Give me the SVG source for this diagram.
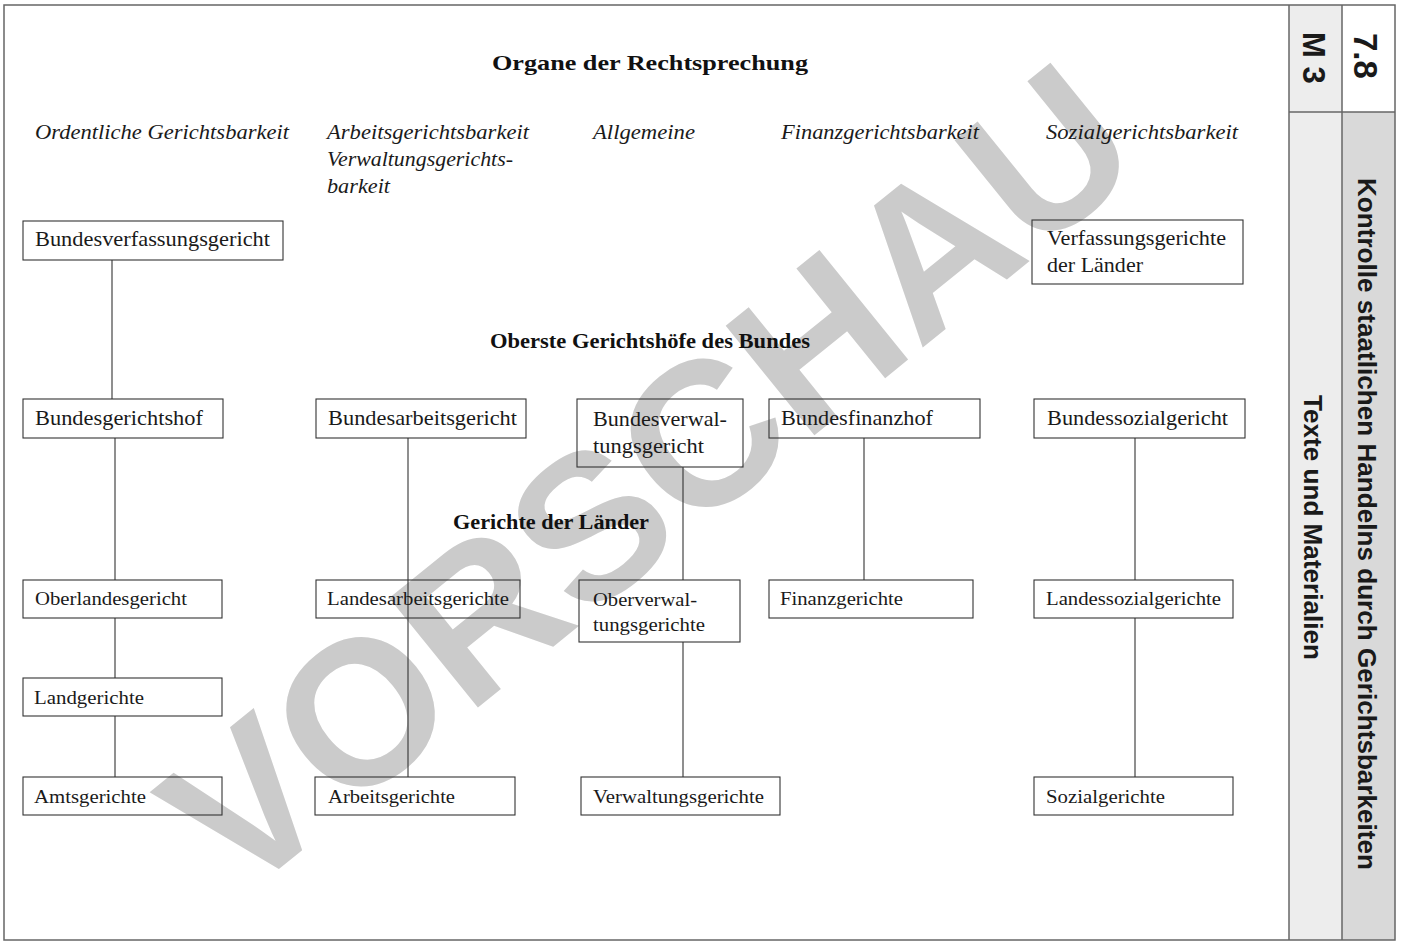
<svg xmlns="http://www.w3.org/2000/svg" width="1403" height="941" viewBox="0 0 1403 941">
<style>
.wm{font-family:"Liberation Sans",Arial,sans-serif;font-weight:bold;fill:#cbcbcb}
.box{fill:none;stroke:#333;stroke-width:1.1}
.t{font-family:"Liberation Serif","Times New Roman",serif;font-size:21px;fill:#1a1a1a}
.s{font-family:"Liberation Serif","Times New Roman",serif;font-size:19.5px;fill:#1a1a1a}
.h{font-family:"Liberation Serif","Times New Roman",serif;font-size:20px;font-style:italic;fill:#1a1a1a}
.b{font-family:"Liberation Serif","Times New Roman",serif;font-size:21px;font-weight:bold;fill:#111}
.side{font-family:"Liberation Sans",Arial,sans-serif;font-weight:bold;fill:#1a1a1a}
.frame{fill:none;stroke:#666;stroke-width:1.5}
#connectors line{stroke:#333;stroke-width:1.1}
</style>
<rect width="1403" height="941" fill="#fff"/>
<g id="watermark">
<text class="wm" x="0" y="0" font-size="205" text-anchor="middle" dominant-baseline="central" transform="translate(648,478) rotate(-39)">VORSCHAU</text>
</g>
<g id="sidebar">
<rect x="1289" y="5" width="53" height="935" fill="#ededed"/>
<rect x="1342" y="112" width="53" height="828" fill="#d9d9d9"/>
<line class="frame" x1="1289" y1="5" x2="1289" y2="940"/>
<line class="frame" x1="1342" y1="5" x2="1342" y2="940"/>
<line class="frame" x1="1289" y1="112" x2="1395" y2="112"/>
<text class="side" font-size="33" transform="translate(1354,33) rotate(90)">7.8</text>
<text class="side" font-size="31" transform="translate(1303,32) rotate(90)">M 3</text>
<text class="side" font-size="25" textLength="692" lengthAdjust="spacingAndGlyphs" transform="translate(1358,178) rotate(90)">Kontrolle staatlichen Handelns durch Gerichtsbarkeiten</text>
<text class="side" font-size="25" textLength="265" lengthAdjust="spacingAndGlyphs" transform="translate(1304,395) rotate(90)">Texte und Materialien</text>
</g>
<rect class="frame" x="4" y="5" width="1391" height="935"/>
<g id="headings">
<text class="b" x="492" y="70" font-size="23" textLength="316" lengthAdjust="spacingAndGlyphs">Organe der Rechtsprechung</text>
<text class="h" x="35" y="139" textLength="254" lengthAdjust="spacingAndGlyphs">Ordentliche Gerichtsbarkeit</text>
<text class="h" x="327" y="139" textLength="202" lengthAdjust="spacingAndGlyphs">Arbeitsgerichtsbarkeit</text>
<text class="h" x="327" y="166" textLength="186" lengthAdjust="spacingAndGlyphs">Verwaltungsgerichts-</text>
<text class="h" x="327" y="193" textLength="63" lengthAdjust="spacingAndGlyphs">barkeit</text>
<text class="h" x="593" y="139" textLength="102" lengthAdjust="spacingAndGlyphs">Allgemeine</text>
<text class="h" x="781" y="139" textLength="198" lengthAdjust="spacingAndGlyphs">Finanzgerichtsbarkeit</text>
<text class="h" x="1046" y="139" textLength="192" lengthAdjust="spacingAndGlyphs">Sozialgerichtsbarkeit</text>
<text class="b" x="490" y="348" textLength="320" lengthAdjust="spacingAndGlyphs">Oberste Gerichtshöfe des Bundes</text>
<text class="b" x="453" y="529" textLength="196" lengthAdjust="spacingAndGlyphs">Gerichte der Länder</text>
</g>
<g id="connectors">
<line x1="112" y1="260" x2="112" y2="399"/>
<line x1="115" y1="438" x2="115" y2="580"/>
<line x1="115" y1="618" x2="115" y2="678"/>
<line x1="115" y1="716" x2="115" y2="777"/>
<line x1="408" y1="438" x2="408" y2="777"/>
<line x1="683" y1="467" x2="683" y2="580"/>
<line x1="683" y1="642" x2="683" y2="777"/>
<line x1="864" y1="438" x2="864" y2="580"/>
<line x1="1135" y1="438" x2="1135" y2="580"/>
<line x1="1135" y1="618" x2="1135" y2="777"/>
</g>
<g id="n-bverfg"><rect class="box" x="23" y="221" width="260" height="39"/><text class="t" x="35" y="246" textLength="235" lengthAdjust="spacingAndGlyphs">Bundesverfassungsgericht</text></g>
<g id="n-verfgl"><rect class="box" x="1032" y="220" width="211" height="64"/><text class="t" x="1047" y="245" textLength="179" lengthAdjust="spacingAndGlyphs">Verfassungsgerichte</text><text class="t" x="1047" y="272" textLength="96" lengthAdjust="spacingAndGlyphs">der Länder</text></g>
<g id="n-bgh"><rect class="box" x="23" y="399" width="200" height="39"/><text class="t" x="35" y="425" textLength="168" lengthAdjust="spacingAndGlyphs">Bundesgerichtshof</text></g>
<g id="n-bag"><rect class="box" x="316" y="399" width="210" height="39"/><text class="t" x="328" y="425" textLength="189" lengthAdjust="spacingAndGlyphs">Bundesarbeitsgericht</text></g>
<g id="n-bverwg"><rect class="box" x="577" y="399" width="166" height="68"/><text class="t" x="593" y="426" textLength="134" lengthAdjust="spacingAndGlyphs">Bundesverwal-</text><text class="t" x="593" y="453" textLength="111" lengthAdjust="spacingAndGlyphs">tungsgericht</text></g>
<g id="n-bfh"><rect class="box" x="769" y="399" width="211" height="39"/><text class="t" x="781" y="425" textLength="152" lengthAdjust="spacingAndGlyphs">Bundesfinanzhof</text></g>
<g id="n-bsg"><rect class="box" x="1034" y="399" width="211" height="39"/><text class="t" x="1047" y="425" textLength="181" lengthAdjust="spacingAndGlyphs">Bundessozialgericht</text></g>
<g id="n-olg"><rect class="box" x="23" y="580" width="199" height="38"/><text class="s" x="35" y="605" textLength="152" lengthAdjust="spacingAndGlyphs">Oberlandesgericht</text></g>
<g id="n-lag"><rect class="box" x="316" y="580" width="204" height="38"/><text class="s" x="327" y="605" textLength="182" lengthAdjust="spacingAndGlyphs">Landesarbeitsgerichte</text></g>
<g id="n-ovg"><rect class="box" x="579" y="580" width="161" height="62"/><text class="s" x="593" y="606" textLength="104" lengthAdjust="spacingAndGlyphs">Oberverwal-</text><text class="s" x="593" y="631" textLength="112" lengthAdjust="spacingAndGlyphs">tungsgerichte</text></g>
<g id="n-fg"><rect class="box" x="769" y="580" width="204" height="38"/><text class="s" x="780" y="605" textLength="123" lengthAdjust="spacingAndGlyphs">Finanzgerichte</text></g>
<g id="n-lsg"><rect class="box" x="1034" y="580" width="199" height="38"/><text class="s" x="1046" y="605" textLength="175" lengthAdjust="spacingAndGlyphs">Landessozialgerichte</text></g>
<g id="n-lg"><rect class="box" x="23" y="678" width="199" height="38"/><text class="s" x="34" y="704" textLength="110" lengthAdjust="spacingAndGlyphs">Landgerichte</text></g>
<g id="n-ag"><rect class="box" x="23" y="777" width="199" height="38"/><text class="s" x="34" y="803" textLength="112" lengthAdjust="spacingAndGlyphs">Amtsgerichte</text></g>
<g id="n-arbg"><rect class="box" x="315" y="777" width="200" height="38"/><text class="s" x="328" y="803" textLength="127" lengthAdjust="spacingAndGlyphs">Arbeitsgerichte</text></g>
<g id="n-vg"><rect class="box" x="581" y="777" width="199" height="38"/><text class="s" x="593" y="803" textLength="171" lengthAdjust="spacingAndGlyphs">Verwaltungsgerichte</text></g>
<g id="n-sg"><rect class="box" x="1034" y="777" width="199" height="38"/><text class="s" x="1046" y="803" textLength="119" lengthAdjust="spacingAndGlyphs">Sozialgerichte</text></g>
</svg>
